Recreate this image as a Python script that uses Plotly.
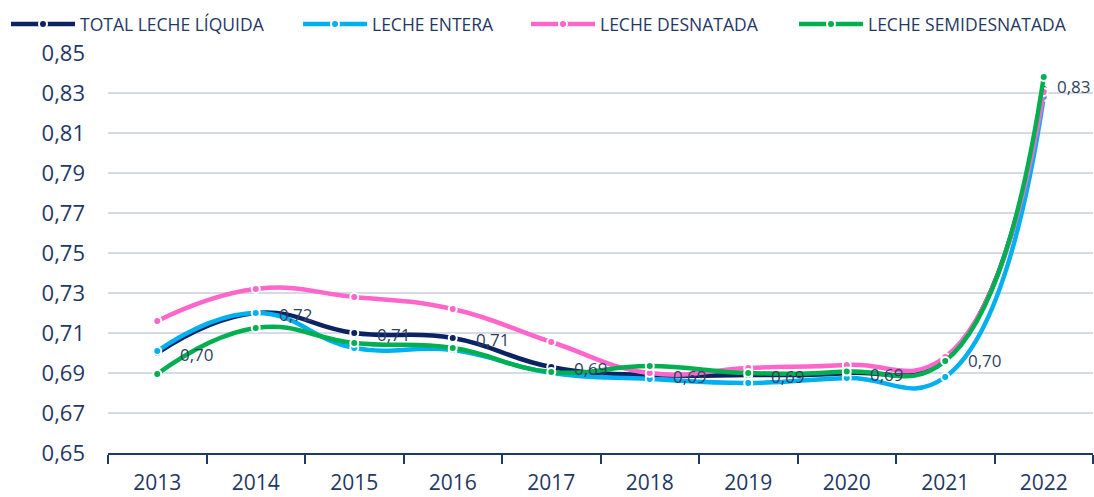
import plotly.graph_objects as go

years = ["2013", "2014", "2015", "2016", "2017", "2018", "2019", "2020", "2021", "2022"]
total = [0.700, 0.720, 0.710, 0.7075, 0.693, 0.689, 0.689, 0.690, 0.697, 0.832]
entera = [0.701, 0.720, 0.7025, 0.7015, 0.690, 0.687, 0.685, 0.6875, 0.688, 0.828]
desnatada = [0.716, 0.732, 0.728, 0.722, 0.7055, 0.690, 0.6925, 0.694, 0.698, 0.8305]
semi = [0.6895, 0.7125, 0.705, 0.7025, 0.6905, 0.6935, 0.690, 0.6907, 0.696, 0.838]
total_labels = ["0,70", "0,72", "0,71", "0,71", "0,69", "0,69", "0,69", "0,69", "0,70", "0,83"]

series = [
    ("TOTAL LECHE LÍQUIDA", total, "#0B2263", "legend", 80),
    ("LECHE ENTERA", entera, "#00B0F0", "legend2", 372),
    ("LECHE DESNATADA", desnatada, "#FF66CC", "legend3", 600),
    ("LECHE SEMIDESNATADA", semi, "#00B050", "legend4", 868),
]

W, H = 1094, 497
font_color = "#1F3864"
fig = go.Figure()
legend_layouts = {}
for name, vals, col, leg, text_x in series:
    fig.add_trace(go.Scatter(
        x=years, y=vals, name=name, legend=leg,
        mode="lines+markers",
        line=dict(color=col, width=4.5, shape="spline", smoothing=1.3),
        marker=dict(color=col, size=8, line=dict(color="white", width=2)),
        cliponaxis=False,
    ))
    legend_layouts[leg] = dict(
        orientation="h", xref="container", yref="container",
        x=(text_x - 74) / W, y=1 - 24 / H, xanchor="left", yanchor="middle",
        itemwidth=64, font=dict(size=17.5, color=font_color),
        bgcolor="rgba(0,0,0,0)",
    )

n = len(total)
for i, (v, lab) in enumerate(zip(total, total_labels)):
    fig.add_annotation(x=i, y=v, text=lab, showarrow=False,
                       xanchor="left", yanchor="middle",
                       xshift=21 if i < n - 1 else 11, yshift=-1 if i < n - 1 else 3,
                       font=dict(size=17, color="#2F3F5F", family="Open Sans"))

fig.update_layout(
    width=W, height=H,
    margin=dict(l=108, r=1, t=53, b=44, autoexpand=False),
    paper_bgcolor="white", plot_bgcolor="white",
    separators=",.",
    font=dict(family="Open Sans", color=font_color),
    showlegend=True,
    **legend_layouts,
)
fig.update_xaxes(
    type="category", range=[-0.5, 9.5], automargin=False,
    showline=True, linecolor="#1F3864", linewidth=2,
    ticks="outside", tickson="boundaries", ticklen=9, tickcolor="#1F3864", tickwidth=1.5,
    tickfont=dict(size=21, color=font_color), showgrid=False, ticklabelstandoff=10,
)
fig.update_yaxes(
    range=[0.65, 0.85], dtick=0.02, tick0=0.65, tickformat=".2f", automargin=False,
    showgrid=True, gridcolor="#D6DAE6", gridwidth=1.5,
    zeroline=False, showline=False,
    tickfont=dict(size=22, color=font_color), ticks="", ticklabelstandoff=22,
)

fig.write_html("out.html", config={"displayModeBar": False},
               post_script="document.body.style.margin='0px';")
